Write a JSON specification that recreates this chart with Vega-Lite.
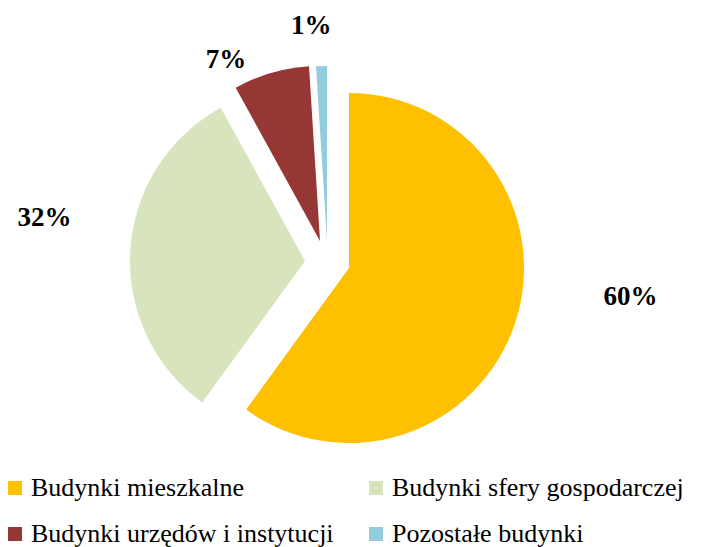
{
  "$schema": "https://vega.github.io/schema/vega-lite/v6.json",
  "width": 698,
  "height": 536,
  "autosize": {"type": "none"},
  "padding": {"left": 0, "top": 0, "right": 20, "bottom": 11},
  "background": "white",
  "config": {
    "font": "Liberation Serif",
    "view": {"stroke": null},
    "legend": {"labelFont": "Liberation Serif", "labelFontSize": 26, "labelColor": "black", "labelLimit": 400}
  },
  "data": {
    "values": [
      {"category": "Budynki mieszkalne", "share": 0.60},
      {"category": "Budynki sfery gospodarczej", "share": 0.32},
      {"category": "Budynki urzędów i instytucji", "share": 0.07},
      {"category": "Pozostałe budynki", "share": 0.01}
    ]
  },
  "transform": [{"stack": "share", "groupby": [], "as": ["v0", "v1"]}],
  "layer": [
    {
      "transform": [{"filter": "datum.category === 'Budynki mieszkalne'"}],
      "mark": {"type": "arc", "radius": 175, "xOffset": 0, "yOffset": 0},
      "encoding": {
        "theta": {"field": "v0", "type": "quantitative", "stack": null, "scale": {"domain": [0, 1]}},
        "theta2": {"field": "v1"},
        "color": {
          "field": "category", "type": "nominal",
          "scale": {"domain": ["Budynki mieszkalne", "Budynki sfery gospodarczej", "Budynki urzędów i instytucji", "Pozostałe budynki"], "range": ["#FFC000", "#D7E4BD", "#953735", "#93CDDD"]},
          "legend": {"orient": "none", "legendX": 2, "legendY": 475, "padding": 0, "columns": 2, "direction": "horizontal", "title": null, "symbolType": "square", "symbolSize": 196, "symbolStrokeWidth": 0, "symbolOpacity": 1, "labelFont": "Liberation Serif", "labelFontSize": 26, "labelColor": "black", "labelOffset": 3, "columnPadding": 29, "rowPadding": 20, "labelLimit": 400}
        }
      }
    },
    {
      "transform": [{"filter": "datum.category === 'Budynki sfery gospodarczej'"}],
      "mark": {"type": "arc", "radius": 175, "xOffset": -44, "yOffset": -7},
      "encoding": {
        "theta": {"field": "v0", "type": "quantitative", "stack": null, "scale": {"domain": [0, 1]}},
        "theta2": {"field": "v1"},
        "color": {"field": "category", "type": "nominal"}
      }
    },
    {
      "transform": [{"filter": "datum.category === 'Budynki urzędów i instytucji'"}],
      "mark": {"type": "arc", "radius": 175, "xOffset": -29, "yOffset": -27},
      "encoding": {
        "theta": {"field": "v0", "type": "quantitative", "stack": null, "scale": {"domain": [0, 1]}},
        "theta2": {"field": "v1"},
        "color": {"field": "category", "type": "nominal"}
      }
    },
    {
      "transform": [{"filter": "datum.category === 'Pozostałe budynki'"}],
      "mark": {"type": "arc", "radius": 175, "xOffset": -22, "yOffset": -27},
      "encoding": {
        "theta": {"field": "v0", "type": "quantitative", "stack": null, "scale": {"domain": [0, 1]}},
        "theta2": {"field": "v1"},
        "color": {"field": "category", "type": "nominal"}
      }
    },
    {
      "mark": {"type": "text", "radius": 275, "xOffset": 20, "yOffset": -56, "font": "Liberation Serif", "fontWeight": "bold", "fontSize": 27, "align": "center", "baseline": "middle", "color": "black"},
      "encoding": {
        "theta": {"field": "share", "type": "quantitative", "stack": true, "scale": {"domain": [0, 1]}},
        "order": {"field": "v0", "type": "quantitative", "sort": "ascending"},
        "text": {"condition": {"test": "datum.category === 'Budynki mieszkalne'", "field": "share", "type": "quantitative", "format": ".0%"}, "value": ""}
      }
    },
    {
      "mark": {"type": "text", "radius": 264, "xOffset": -41, "yOffset": -33, "font": "Liberation Serif", "fontWeight": "bold", "fontSize": 27, "align": "center", "baseline": "middle", "color": "black"},
      "encoding": {
        "theta": {"field": "share", "type": "quantitative", "stack": true, "scale": {"domain": [0, 1]}},
        "order": {"field": "v0", "type": "quantitative", "sort": "ascending"},
        "text": {"condition": {"test": "datum.category === 'Budynki sfery gospodarczej'", "field": "share", "type": "quantitative", "format": ".0%"}, "value": ""}
      }
    },
    {
      "mark": {"type": "text", "radius": 201, "xOffset": -67, "yOffset": -15, "font": "Liberation Serif", "fontWeight": "bold", "fontSize": 27, "align": "center", "baseline": "middle", "color": "black"},
      "encoding": {
        "theta": {"field": "share", "type": "quantitative", "stack": true, "scale": {"domain": [0, 1]}},
        "order": {"field": "v0", "type": "quantitative", "sort": "ascending"},
        "text": {"condition": {"test": "datum.category === 'Budynki urzędów i instytucji'", "field": "share", "type": "quantitative", "format": ".0%"}, "value": ""}
      }
    },
    {
      "mark": {"type": "text", "radius": 216, "xOffset": -31, "yOffset": -26, "font": "Liberation Serif", "fontWeight": "bold", "fontSize": 27, "align": "center", "baseline": "middle", "color": "black"},
      "encoding": {
        "theta": {"field": "share", "type": "quantitative", "stack": true, "scale": {"domain": [0, 1]}},
        "order": {"field": "v0", "type": "quantitative", "sort": "ascending"},
        "text": {"condition": {"test": "datum.category === 'Pozostałe budynki'", "field": "share", "type": "quantitative", "format": ".0%"}, "value": ""}
      }
    }
  ]
}
